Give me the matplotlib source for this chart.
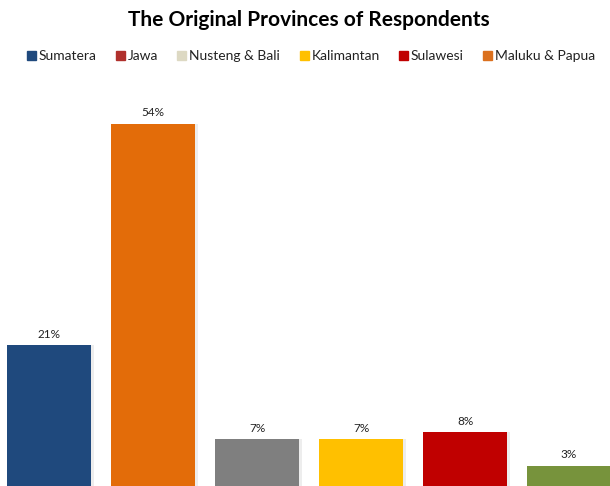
import matplotlib.pyplot as plt
from matplotlib.patches import Rectangle

provinces = ["Sumatera", "Jawa", "Nusteng & Bali", "Kalimantan", "Sulawesi", "Maluku & Papua"]
shares = [21, 54, 7, 7, 8, 3]
bar_colors = ["#1F497D", "#E36C09", "#7F7F7F", "#FFC000", "#C00000", "#77933C"]
legend_colors = ["#1F497D", "#B0302C", "#DDD9C3", "#FFC000", "#C00000", "#DB701E"]

plt.rcParams["font.family"] = ["Lato", "DejaVu Sans"]

fig = plt.figure(figsize=(6.10, 4.86), dpi=100)
ax = fig.add_axes([0, 0, 1, (486 - 90) / 486])

x = list(range(len(provinces)))
# subtle drop shadow behind each bar
for xi, v in zip(x, shares):
    ax.bar(xi + 0.025, v, width=0.808, color="#000000", alpha=0.07, zorder=1)
bars = ax.bar(x, shares, width=0.808, color=bar_colors, zorder=2)
for b, v in zip(bars, shares):
    ax.annotate(f"{v}%", (b.get_x() + b.get_width() / 2, v),
                xytext=(0, 4), textcoords="offset points",
                ha="center", va="bottom", fontsize=8.5, color="#222222")

ax.set_xlim(-49 / 104, 561 / 104)
ax.set_ylim(0, 54 * (486 - 90) / 362)
ax.axis("off")

fig.text(309 / 610, 1 - 20 / 486, "The Original Provinces of Respondents",
         ha="center", va="center", fontsize=15, fontweight="bold", color="#000000")

# legend row
marker_x = [27, 116, 177, 300, 399, 483]
ly = 56
for mx, name, c in zip(marker_x, provinces, legend_colors):
    fig.patches.append(Rectangle(((mx) / 610, 1 - (ly + 4.5) / 486), 9 / 610, 9 / 486,
                                 transform=fig.transFigure, color=c))
    fig.text((mx + 12) / 610, 1 - ly / 486, name, ha="left", va="center",
             fontsize=10, color="#222222")

fig.savefig("out.png", dpi=100)
